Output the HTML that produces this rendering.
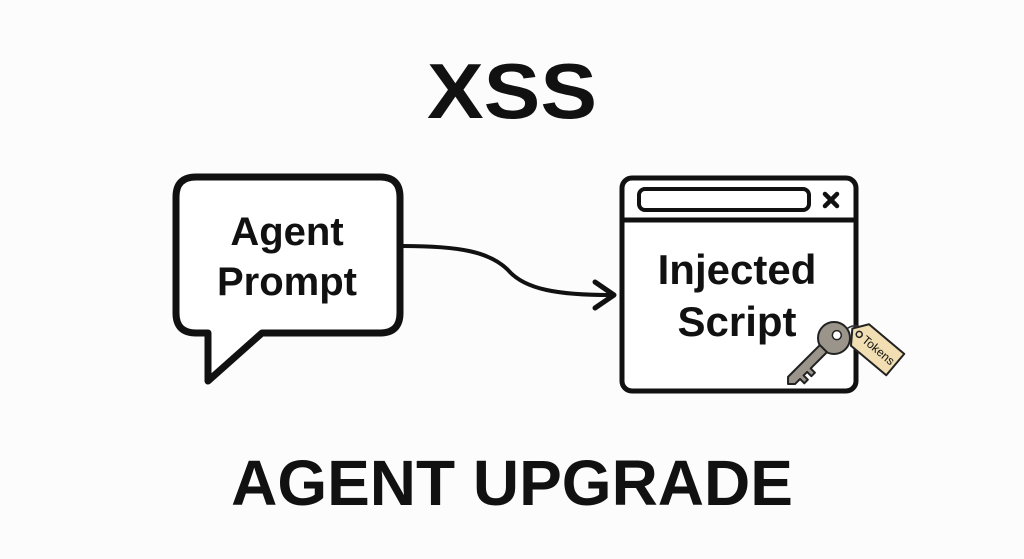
<!DOCTYPE html>
<html><head><style>
html,body{margin:0;padding:0;background:#fcfcfc;}
svg{display:block;font-family:"Liberation Sans",sans-serif;}
</style></head><body>
<svg width="1024" height="559" viewBox="0 0 1024 559">
<rect width="1024" height="559" fill="#fcfcfc"/>
<text x="512" y="118" text-anchor="middle" font-size="78" font-weight="bold" fill="#111" textLength="170" lengthAdjust="spacingAndGlyphs">XSS</text>
<text x="512" y="505" text-anchor="middle" font-size="64" font-weight="bold" fill="#111">AGENT UPGRADE</text>
<!-- bubble -->
<path d="M196 177 H380 Q400 177 400 197 V313 Q400 333 380 333 H262 L208 381 V333 H196 Q176 333 176 313 V197 Q176 177 196 177 Z" fill="#fff" stroke="#111" stroke-width="7" stroke-linejoin="round"/>
<text x="287" y="245" text-anchor="middle" font-size="40" font-weight="bold" fill="#111">Agent</text>
<text x="287" y="295" text-anchor="middle" font-size="40" font-weight="bold" fill="#111">Prompt</text>
<!-- arrow -->
<path d="M403 246 C460 246 490 252 508 270 C525 290 560 295 610 295" fill="none" stroke="#111" stroke-width="4"/>
<path d="M595 282 L614 295 L595 308" fill="none" stroke="#111" stroke-width="5" stroke-linecap="round" stroke-linejoin="round"/>
<!-- window -->
<rect x="622" y="178" width="234" height="213" rx="10" fill="#fff" stroke="#111" stroke-width="5"/>
<line x1="622" y1="220" x2="856" y2="220" stroke="#111" stroke-width="5"/>
<rect x="639" y="189" width="170" height="21" rx="6" fill="#fff" stroke="#111" stroke-width="4"/>
<path d="M825 194 L837 206 M837 194 L825 206" stroke="#111" stroke-width="4.5" stroke-linecap="round"/>
<text x="737" y="284" text-anchor="middle" font-size="42" font-weight="bold" fill="#111">Injected</text>
<text x="737" y="336" text-anchor="middle" font-size="42" font-weight="bold" fill="#111">Script</text>
<!-- key -->
<path d="M842 334 Q852 320 866 330" fill="none" stroke="#333" stroke-width="1.5"/>
<g transform="translate(860 335) rotate(40)">
<path d="M0 -14 L46 -14 L46 14 L0 14 L-10 0 Z" fill="#f1dfb3" stroke="#222" stroke-width="2" stroke-linejoin="round"/>
<circle cx="-1" cy="0" r="3" fill="none" stroke="#222" stroke-width="1.5"/>
<text x="5" y="4" font-size="12" fill="#111">Tokens</text>
</g>
<g transform="translate(834 338) rotate(-45)">
<circle cx="0" cy="0" r="16" fill="#9a948a" stroke="#222" stroke-width="2"/>
<circle cx="4" cy="0" r="4.5" fill="#fff" stroke="#222" stroke-width="1.5"/>
<path d="M-15 -5 L-60 -5 L-65 0 L-60 5 L-53 5 L-53 11 L-48 11 L-48 5 L-43 5 L-43 11 L-38 11 L-38 5 L-15 5 Z" fill="#9a948a" stroke="#222" stroke-width="2" stroke-linejoin="round"/>
</g>
</svg>
</body></html>
